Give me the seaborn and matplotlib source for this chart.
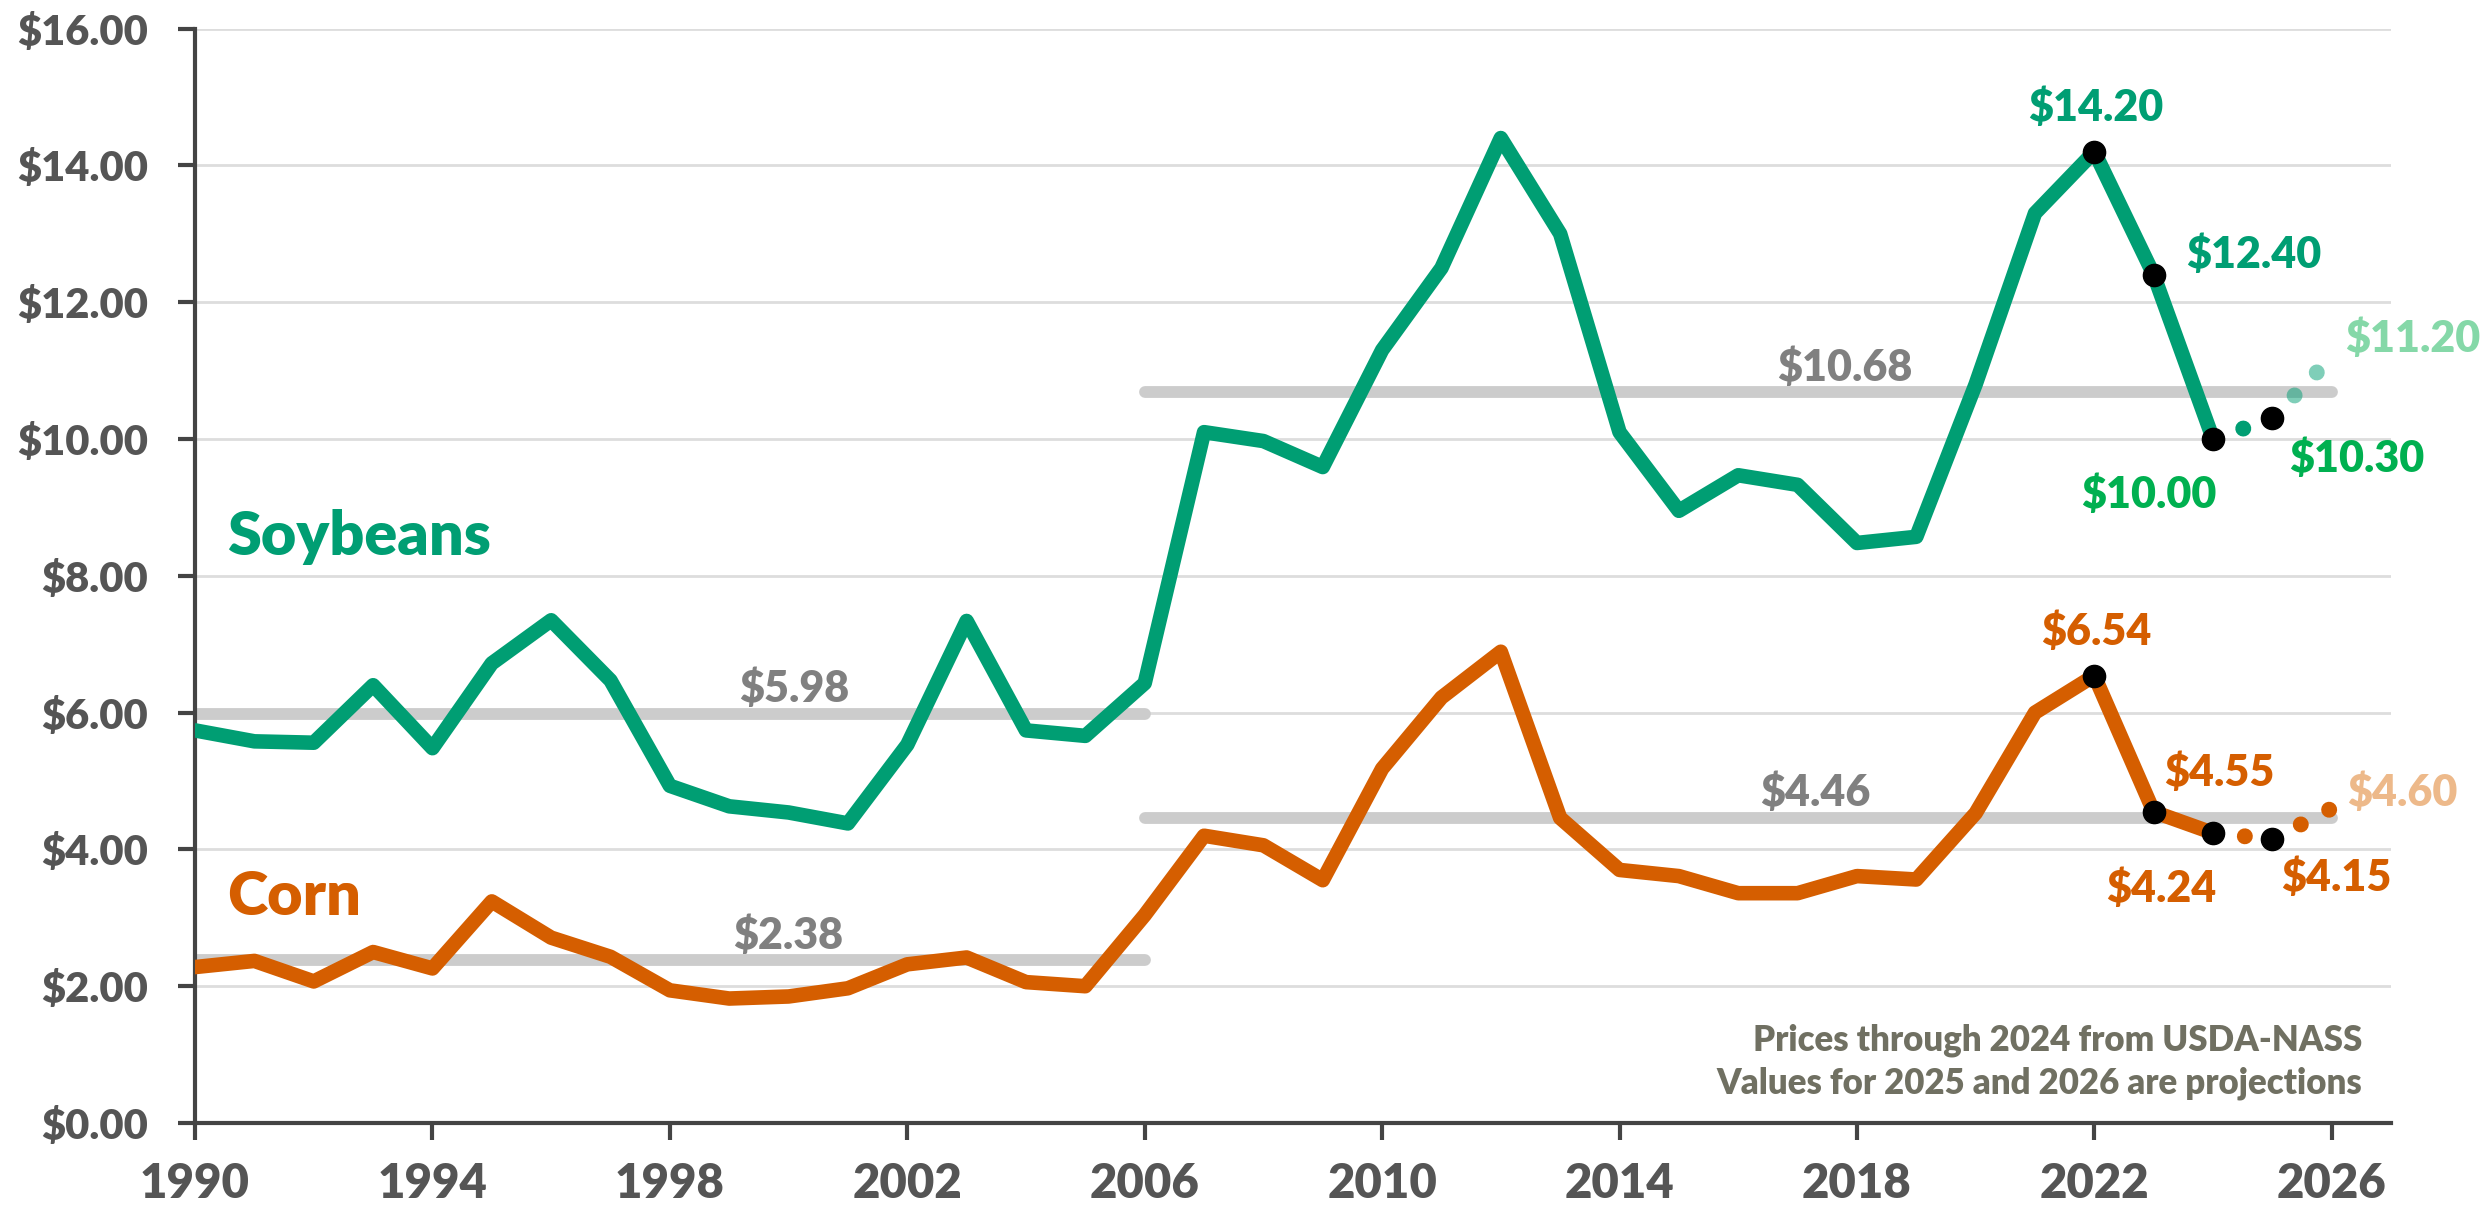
import matplotlib
matplotlib.use('Agg')
import matplotlib.pyplot as plt
import seaborn as sns
import pandas as pd
from matplotlib.ticker import FuncFormatter

# Season-average prices received, $/bushel (1990-2024)
years = list(range(1990, 2025))
soybeans = [5.74, 5.58, 5.56, 6.40, 5.48, 6.72, 7.35, 6.47, 4.93, 4.63,
            4.54, 4.38, 5.53, 7.34, 5.74, 5.66, 6.43, 10.10, 9.97, 9.59,
            11.30, 12.50, 14.40, 13.00, 10.10, 8.95, 9.47, 9.33, 8.48, 8.57,
            10.80, 13.30, 14.20, 12.40, 10.00]
corn = [2.28, 2.37, 2.07, 2.50, 2.26, 3.24, 2.71, 2.43, 1.94, 1.82,
        1.85, 1.97, 2.32, 2.42, 2.06, 2.00, 3.04, 4.20, 4.06, 3.55,
        5.18, 6.22, 6.89, 4.46, 3.70, 3.61, 3.36, 3.36, 3.61, 3.56,
        4.53, 6.00, 6.54, 4.55, 4.24]

# projections
proj_years = [2024, 2025, 2026]
soy_proj = [10.00, 10.30, 11.20]
corn_proj = [4.24, 4.15, 4.60]

# period averages
avg_spans = [(1990, 2006), (2006, 2026)]
soy_avg = [5.98, 10.68]
corn_avg = [2.38, 4.46]

highlight_years = [2022, 2023, 2024, 2025]
label_years = [2022, 2023, 2024, 2025, 2026]

SOY = '#009e73'
CORN = '#d55e00'
GREY_BAR = '#cccccc'

# label placement per year: (dx, dy, ha)
label_pos = {
    'Soybeans': [(0.02, 0.45, 'center'), (0.54, 0.10, 'left'), (0.05, -1.01, 'right'),
                 (0.29, -0.78, 'left'), (0.23, 0.07, 'left')],
    'Corn': [(0.03, 0.45, 'center'), (0.18, 0.37, 'left'), (0.06, -1.01, 'right'),
             (0.15, -0.76, 'left'), (0.26, 0.03, 'left')],
}
label_colors = {
    'Soybeans': [SOY, SOY, '#00b050', '#00b050', '#85d8a8'],
    'Corn': [CORN, CORN, CORN, CORN, '#edb98a'],
}
proj_alpha = {'Soybeans': [1.0, 0.5], 'Corn': [1.0, 1.0]}
avg_label_x = {'Soybeans': [2000.1, 2017.8], 'Corn': [2000.0, 2017.3]}

sns.set_theme(style='white')
plt.rcParams['font.family'] = ['Lato', 'DejaVu Sans']
plt.rcParams['font.weight'] = 'heavy'

fig = plt.figure(figsize=(24.91, 12.06), dpi=100)
ax = fig.add_axes([0.0783, 0.0688, 0.8816, 0.9075])

df = pd.DataFrame({
    'year': years * 2,
    'price': soybeans + corn,
    'crop': ['Soybeans'] * len(years) + ['Corn'] * len(years),
})
sns.lineplot(data=df, x='year', y='price', hue='crop',
             palette={'Soybeans': SOY, 'Corn': CORN},
             linewidth=10.5, legend=False, ax=ax, zorder=4)

series = {
    'Soybeans': (soybeans, soy_proj, soy_avg, SOY),
    'Corn': (corn, corn_proj, corn_avg, CORN),
}

for name, (hist, proj, avgs, color) in series.items():
    values = dict(zip(years, hist))
    values.update(dict(zip(proj_years, proj)))

    # average bars
    for (x0, x1), v, lx in zip(avg_spans, avgs, avg_label_x[name]):
        ax.plot([x0, x1], [v, v], color=GREY_BAR, lw=8.5,
                solid_capstyle='round', zorder=2)
        ax.text(lx, v + 0.17, f'${v:.2f}', ha='center', va='baseline',
                fontsize=31, color='#808080')

    # dotted projections
    for i in range(len(proj_years) - 1):
        ax.plot(proj_years[i:i + 2], proj[i:i + 2], color=color, lw=11.5,
                linestyle=(0, (0.001, 2.0)), dash_capstyle='round',
                alpha=proj_alpha[name][i], zorder=3)

    # black markers
    ax.plot(highlight_years, [values[y] for y in highlight_years], 'o',
            color='black', ms=16, zorder=6)

    # value labels
    for y, (dx, dy, ha), c in zip(label_years, label_pos[name], label_colors[name]):
        ax.text(y + dx, values[y] + dy, f'${values[y]:.2f}', ha=ha,
                va='baseline', fontsize=31, color=c, zorder=7)

ax.text(1990.54, 8.30, 'Soybeans', fontsize=44, color=SOY, va='baseline')
ax.text(1990.54, 3.04, 'Corn', fontsize=44, color=CORN, va='baseline')

ax.text(0.987, 0.0667, 'Prices through 2024 from USDA-NASS', transform=ax.transAxes,
        ha='right', va='baseline', fontsize=25, color='#707062')
ax.text(0.987, 0.0274, 'Values for 2025 and 2026 are projections', transform=ax.transAxes,
        ha='right', va='baseline', fontsize=25, color='#707062')

ax.set_xlim(1990, 2027)
ax.set_ylim(0, 16)
ax.set_xticks(range(1990, 2027, 4))
ax.set_yticks(range(0, 17, 2))
ax.yaxis.set_major_formatter(FuncFormatter(lambda v, _: f'${v:.2f}'))
ax.set_xlabel('')
ax.set_ylabel('')

ax.yaxis.grid(True, color='#dddddd', lw=2)
ax.xaxis.grid(False)
ax.set_axisbelow(True)

sns.despine(ax=ax)
for side in ['left', 'bottom']:
    ax.spines[side].set_linewidth(3)
    ax.spines[side].set_color('#444444')

ax.tick_params(axis='both', length=12, width=3, color='#444444', labelcolor='#555555',
               left=True, bottom=True)
ax.tick_params(axis='y', labelsize=30, pad=22)
ax.tick_params(axis='x', labelsize=34, pad=16)

fig.savefig('out.png', dpi=100)
